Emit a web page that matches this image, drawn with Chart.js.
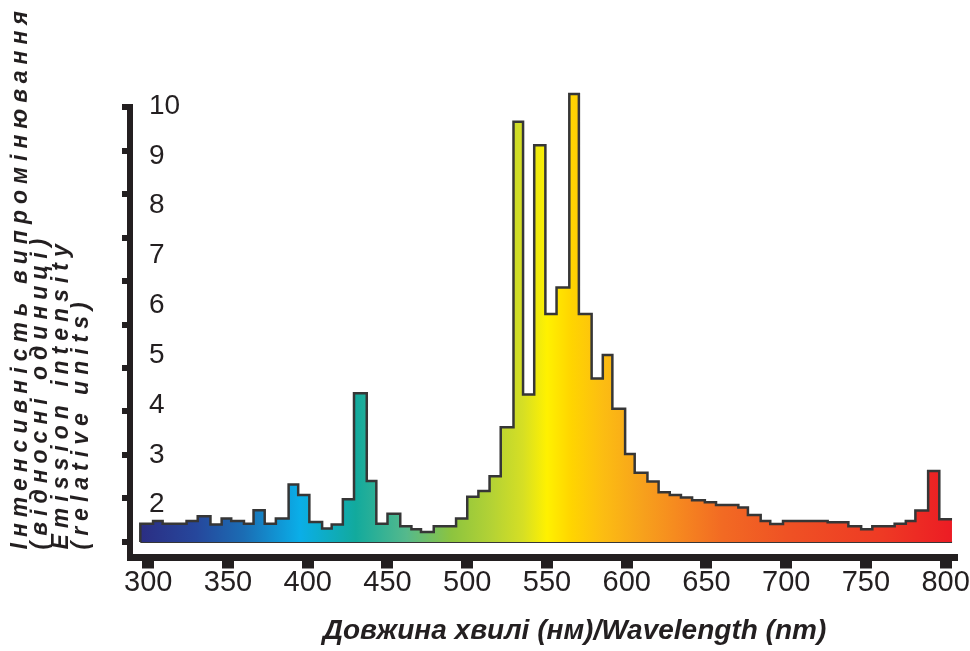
<!DOCTYPE html>
<html lang="uk">
<head>
<meta charset="utf-8">
<title>Emission spectrum</title>
<script src="https://cdn.jsdelivr.net/npm/chart.js@4.4.1/dist/chart.umd.min.js"></script>
<style>
  html, body { margin: 0; padding: 0; background: #fff; }
  #wrap { width: 970px; height: 651px; position: relative; }
</style>
</head>
<body>
<div id="wrap"><canvas id="spectrum"></canvas></div>
<script>
// Bin edges (nm) and the intensity of each bin
const binEdgesNm = [
  295, 303, 309, 317, 324, 331, 339, 346, 352, 360,
  366, 373, 380, 388, 394, 401, 409, 415, 422, 429,
  437, 443, 450, 458, 465, 471, 479, 486, 493, 500,
  507, 514, 521, 529, 535, 542, 549, 556, 564, 570,
  578, 585, 591, 599, 605, 613, 620, 627, 634, 641,
  649, 656, 662, 670, 676, 684, 690, 698, 705, 712,
  719, 726, 733, 739, 747, 754, 761, 768, 775, 781,
  789, 796, 804
];
const intensity = [
  0.42, 0.48, 0.42, 0.42, 0.48, 0.59, 0.40, 0.54, 0.48, 0.42,
  0.73, 0.42, 0.54, 1.32, 1.08, 0.46, 0.31, 0.40, 0.98, 3.42,
  1.40, 0.42, 0.65, 0.36, 0.29, 0.23, 0.36, 0.36, 0.54, 1.04,
  1.17, 1.51, 2.64, 9.66, 3.39, 9.12, 5.24, 5.85, 10.30, 5.24,
  3.76, 4.30, 3.06, 2.02, 1.59, 1.39, 1.14, 1.08, 1.02, 0.96,
  0.91, 0.85, 0.85, 0.79, 0.62, 0.48, 0.41, 0.48, 0.48, 0.48,
  0.48, 0.45, 0.45, 0.36, 0.29, 0.36, 0.36, 0.42, 0.48, 0.72,
  1.63, 0.52
];

const xTickValues = [300, 350, 400, 450, 500, 550, 600, 650, 700, 750, 800];
const yTickValues = [0, 1, 2, 3, 4, 5, 6, 7, 8, 9, 10];   // marks on the axis line
const yLabelValues = [2, 3, 4, 5, 6, 7, 8, 9, 10];        // printed numbers (spaced apart from the marks in the original)

const yTitleLines = [
  "Інтенсивність випромінювання",
  "(відносні одиниці)",
  "Emission intensity",
  "(relative units)"
];
const xTitle = "Довжина хвилі (нм)/Wavelength (nm)";

// colour ramp of the fill, [nm, colour]
const spectrumStops = [
  [295, "#2b2e83"], [330, "#26479c"], [360, "#1b6db4"], [395, "#0aaee8"],
  [430, "#12aa9d"], [462, "#55b98c"], [490, "#8cc43f"], [515, "#b3d235"],
  [535, "#d6df24"], [550, "#fff100"], [565, "#ffd500"], [585, "#fcbd12"],
  [610, "#f7a11c"], [630, "#f68b1f"], [660, "#f26a23"], [700, "#ef5224"],
  [760, "#ee3a24"], [804, "#ec1c24"]
];

const INK = "#231f20";
const numFont = { family: '"Liberation Sans Narrow", "Arial Narrow", "Liberation Sans", sans-serif', lineHeight: 1 };

// outline: start and end on the baseline so the sides are stroked too
const spectrumPoints = [{ x: binEdgesNm[0], y: 0 }]
  .concat(intensity.map((v, i) => ({ x: binEdgesNm[i], y: v })))
  .concat([{ x: binEdgesNm[binEdgesNm.length - 1], y: intensity[intensity.length - 1] },
           { x: binEdgesNm[binEdgesNm.length - 1], y: 0 }]);
const baselinePoints = [
  { x: binEdgesNm[0], y: 0 },
  { x: binEdgesNm[binEdgesNm.length - 1], y: 0 }
];

function spectrumFill(context) {
  const { chart } = context;
  const { ctx, chartArea, scales } = chart;
  if (!chartArea) return null;
  const n0 = spectrumStops[0][0];
  const n1 = spectrumStops[spectrumStops.length - 1][0];
  const g = ctx.createLinearGradient(scales.x.getPixelForValue(n0), 0, scales.x.getPixelForValue(n1), 0);
  for (const [nm, c] of spectrumStops) g.addColorStop((nm - n0) / (n1 - n0), c);
  return g;
}

function fixedTicks(values) {
  return (axis) => { axis.ticks = values.map((value) => ({ value })); };
}

// small adjustments after layout: axis line stops at the top mark,
// numbers sit inside the plot, titles placed as in the original
const axisFit = {
  id: "axisFit",
  afterLayout(chart) {
    const { x, y, yl, xt, yt } = chart.scales;
    y.top = y.getPixelForValue(yTickValues[yTickValues.length - 1]);
    yl.right = x.left + 19;
    xt.left += 33.5;
    xt.right += 33.5;
    yt.bottom -= 8;
  }
};

// the rotated title is stretched along its length in the original
const titleTracking = {
  id: "titleTracking",
  afterDatasetsDraw(chart) { chart.ctx.letterSpacing = "6px"; },
  afterDraw(chart) { chart.ctx.letterSpacing = "0px"; }
};

new Chart(document.getElementById("spectrum"), {
  type: "line",
  data: {
    datasets: [
      {
        label: "Emission",
        data: spectrumPoints,
        stepped: true,
        fill: "origin",
        backgroundColor: spectrumFill,
        borderColor: "#363636",
        borderWidth: 2.5,
        pointRadius: 0,
        clip: false
      },
      {
        label: "baseline",
        data: baselinePoints,
        fill: false,
        borderColor: "#363636",
        borderWidth: 2,
        pointRadius: 0,
        clip: false
      }
    ]
  },
  options: {
    responsive: true,
    maintainAspectRatio: false,
    animation: false,
    events: [],
    layout: { padding: { left: 10, top: 90, right: 17, bottom: 0 } },
    plugins: {
      legend: { display: false },
      tooltip: { enabled: false }
    },
    scales: {
      x: {
        type: "linear",
        min: 288.54,
        max: 803.95,
        afterBuildTicks: fixedTicks(xTickValues),
        grid: { drawOnChartArea: false, tickLength: 11, lineWidth: 12, color: INK },
        border: { width: 7, color: INK },
        ticks: { color: INK, padding: 0, maxRotation: 0, autoSkip: false, font: { ...numFont, size: 29 } }
      },
      xt: {
        type: "linear",
        position: "bottom",
        weight: 1,
        grid: { display: false, drawTicks: false },
        border: { display: false },
        ticks: { display: false },
        title: {
          display: true,
          text: xTitle,
          color: INK,
          font: { family: '"Liberation Sans", Arial, sans-serif', size: 28, weight: "bold", style: "italic", lineHeight: 1 },
          padding: { top: 19.5, bottom: 6 }
        }
      },
      y: {
        type: "linear",
        position: "left",
        weight: 1,
        min: -0.358,
        max: 10.393,
        afterBuildTicks: fixedTicks(yTickValues),
        grid: { drawOnChartArea: false, tickLength: 8, lineWidth: 6, color: INK },
        border: { width: 6, color: INK },
        ticks: { display: false }
      },
      yl: {
        type: "linear",
        position: "left",
        weight: 0,
        min: 0.942,
        max: 10.322,
        afterBuildTicks: fixedTicks(yLabelValues),
        grid: { display: false, drawTicks: false },
        border: { display: false },
        ticks: { mirror: true, padding: 0, color: INK, font: { ...numFont, size: 28 } }
      },
      yt: {
        type: "linear",
        position: "left",
        weight: 2,
        grid: { display: false, drawTicks: false, z: 1 },
        border: { display: false, z: 1 },
        ticks: { display: false, z: 1 },
        title: {
          display: true,
          align: "start",
          text: yTitleLines,
          color: INK,
          font: { family: '"Liberation Sans", Arial, sans-serif', size: 23, weight: "bold", style: "italic", lineHeight: "20.5px" },
          padding: { top: 0, bottom: 30 }
        }
      }
    }
  },
  plugins: [axisFit, titleTracking]
});
</script>
</body>
</html>
